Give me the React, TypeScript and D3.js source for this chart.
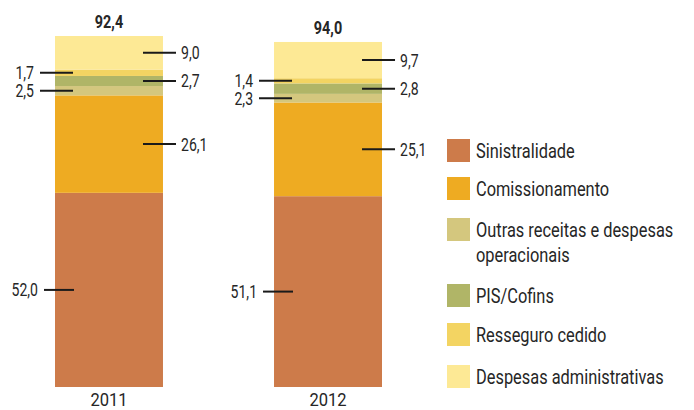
import React, { useEffect, useRef } from 'react';
import * as d3 from 'd3';

const years = ['2011', '2012'];
const totalLabels = ['92,4', '94,0'];
const seriesNames = [
  'Sinistralidade',
  'Comissionamento',
  'Outras receitas e despesas operacionais',
  'PIS/Cofins',
  'Resseguro cedido',
  'Despesas administrativas',
];
const sinistralidade = [52.0, 51.1];
const comissionamento = [26.1, 25.1];
const outras = [2.5, 2.3];
const pisCofins = [2.7, 2.8];
const resseguro = [1.7, 1.4];
const despesasAdm = [9.0, 9.7];

const colors = ['#cd7b4a', '#eeab22', '#d4c77e', '#b0b567', '#f3d462', '#fde995'];
const labelSide = ['left', 'right', 'left', 'right', 'left', 'right'];

const FONT = "Roboto, 'Liberation Sans', sans-serif";
const INK = '#262626';

// condensed text: horizontal squeeze since no condensed font is installed
function addText(
  parent: any,
  x: number,
  y: number,
  str: string,
  size: number,
  sx: number,
  anchor = 'start',
  weight = 'normal'
) {
  const g = parent.append('g').attr('transform', `translate(${x},${y}) scale(${sx},1)`);
  return g
    .append('text')
    .attr('text-anchor', anchor)
    .attr('font-size', size)
    .attr('font-weight', weight)
    .attr('font-family', FONT)
    .attr('fill', INK)
    .text(str);
}

const App: React.FC = () => {
  const svgRef = useRef<SVGSVGElement | null>(null);

  useEffect(() => {
    if (!svgRef.current) return;
    const svg = d3.select(svgRef.current);
    svg.selectAll('*').remove();

    const values = [sinistralidade, comissionamento, outras, pisCofins, resseguro, despesasAdm];
    const rows = years.map((yr, i) => {
      const r: any = { year: yr };
      seriesNames.forEach((s, j) => (r[s] = values[j][i]));
      return r;
    });
    const stacked = d3.stack().keys(seriesNames)(rows);

    const x = d3.scaleBand().domain(years).range([55, 382]).paddingInner(0.507).paddingOuter(0);
    const y = d3.scaleLinear().domain([0, 94]).range([387, 36]);
    const fmt = (v: number) => d3.format('.1f')(v).replace('.', ',');

    const g = svg.append('g') as any;

    stacked.forEach((layer, j) => {
      g.selectAll(null)
        .data(layer)
        .enter()
        .append('rect')
        .attr('x', (d: any) => x(d.data.year)!)
        .attr('y', (d: any) => y(d[1]))
        .attr('width', x.bandwidth())
        .attr('height', (d: any) => y(d[0]) - y(d[1]))
        .attr('fill', colors[j]);
    });

    // value labels with leader lines
    stacked.forEach((layer, j) => {
      layer.forEach((d: any, i) => {
        const bx = x(d.data.year)!;
        const cy = (y(d[0]) + y(d[1])) / 2;
        const v = values[j][i];
        if (labelSide[j] === 'right') {
          g.append('line')
            .attr('x1', bx + 88).attr('x2', bx + 121)
            .attr('y1', cy).attr('y2', cy)
            .attr('stroke', '#1a1a1a').attr('stroke-width', 2);
          addText(g, bx + 126, cy + 6.5, fmt(v), 18, 0.78);
        } else {
          const x1 = j === 0 ? bx - 11 : bx - 15;
          const x2 = j === 0 ? bx + 19 : bx + 18;
          g.append('line')
            .attr('x1', x1).attr('x2', x2)
            .attr('y1', cy).attr('y2', cy)
            .attr('stroke', '#1a1a1a').attr('stroke-width', 2);
          addText(g, x1 - 6, cy + 6.5, fmt(v), 18, 0.78, 'end');
        }
      });
    });

    // totals
    const top = stacked[stacked.length - 1];
    top.forEach((d: any, i) => {
      addText(g, x(d.data.year)! + x.bandwidth() / 2, y(d[1]) - 8, totalLabels[i], 18, 0.8, 'middle', 'bold');
    });

    // x labels
    years.forEach((yr) => {
      addText(g, x(yr)! + x.bandwidth() / 2, 406, yr, 18, 0.92, 'middle', 'normal');
    });

    // legend
    const legendY = [139, 177, 218, 284, 323, 365];
    const lg = svg.append('g') as any;
    seriesNames.forEach((s, j) => {
      lg.append('rect')
        .attr('x', 447).attr('y', legendY[j])
        .attr('width', 23).attr('height', 23)
        .attr('fill', colors[j]);
      if (j === 2) {
        addText(lg, 476, legendY[j] + 19, 'Outras receitas e despesas', 20, 0.82);
        addText(lg, 476, legendY[j] + 44, 'operacionais', 20, 0.82);
      } else {
        addText(lg, 476, legendY[j] + 19, s, 20, 0.82);
      }
    });
  }, []);

  return (
    <div style={{ position: 'absolute', left: 0, top: 0 }}>
      <svg ref={svgRef} width={694} height={410} style={{ display: 'block' }}></svg>
    </div>
  );
};

export default App;
